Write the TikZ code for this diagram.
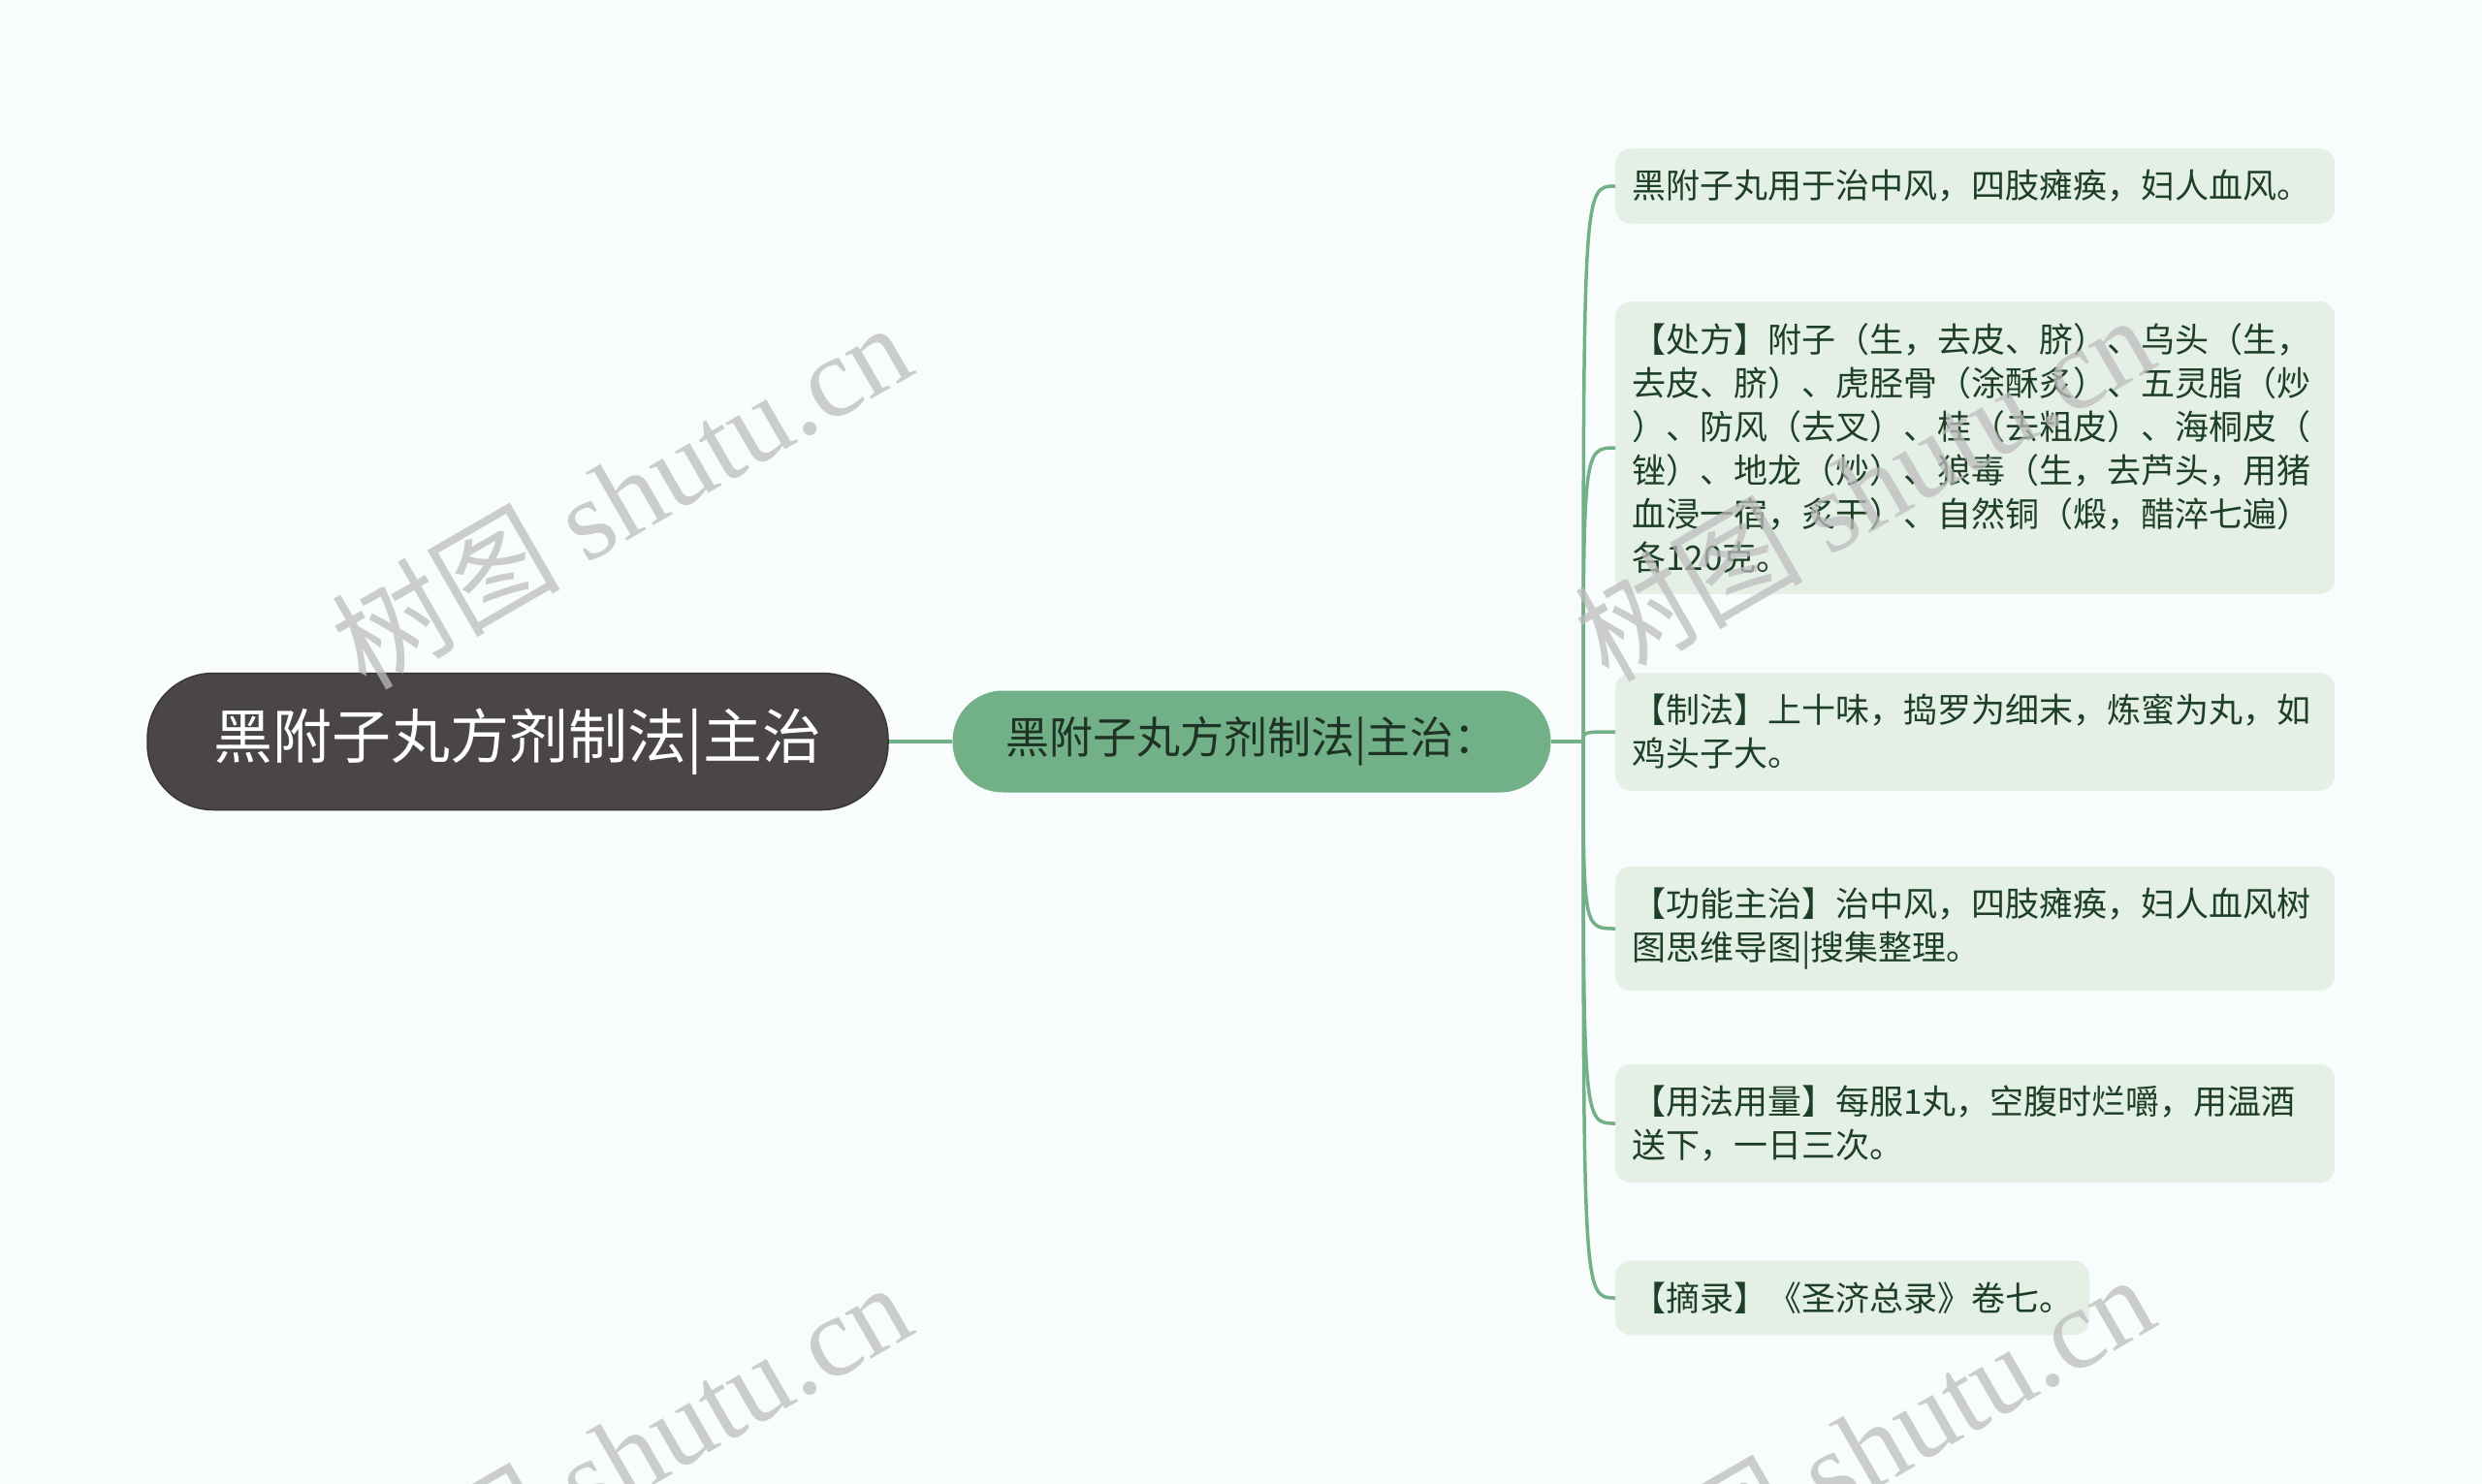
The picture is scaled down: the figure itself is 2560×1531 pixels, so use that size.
\documentclass[tikz,border=0pt]{standalone}
\usepackage{fontspec}
\setmainfont{Noto Sans CJK SC}
\newfontfamily\wmlatin{Liberation Serif}
\newfontfamily\wmcjk{Noto Sans CJK SC}
\usetikzlibrary{calc}

\definecolor{bgcol}{HTML}{F8FCFC}
\definecolor{rootfill}{HTML}{4B4646}
\definecolor{rootline}{HTML}{3A3636}
\definecolor{subfill}{HTML}{72B087}
\definecolor{subtext}{HTML}{1E3325}
\definecolor{leaffill}{HTML}{E4EFE6}
\definecolor{leaftext}{HTML}{1E3F27}
\definecolor{edgecol}{HTML}{72B087}
\definecolor{wmcol}{HTML}{BDBDBD}

\begin{document}
\begin{tikzpicture}[x=1pt, y=-1pt, line join=round]
  \tikzstyle{rootbox}=[rectangle, rounded corners=68pt, fill=rootfill, draw=rootline, line width=1.5pt, text=white, minimum width=764pt, minimum height=141pt, font=\fontsize{61}{61}\selectfont]
  \tikzstyle{subbox}=[rectangle, rounded corners=52pt, fill=subfill, text=subtext, minimum width=617pt, minimum height=105pt, font=\fontsize{45}{45}\selectfont]
  \tikzstyle{leafbox}=[rectangle, rounded corners=16pt, fill=leaffill, text=leaftext, anchor=west, inner xsep=17pt, inner ysep=22pt, align=left, font=\fontsize{35}{45}\selectfont]
  \tikzstyle{wide}=[text width=708pt]
  \tikzstyle{link}=[draw=edgecol, line width=3.5pt]
  \tikzstyle{branch}=[link, to path={.. controls (\tikztostart |- \tikztotarget) .. (\tikztotarget)}]
  \tikzstyle{wmtext}=[text=wmcol, text opacity=0.75, rotate=30, font=\fontsize{118}{118}\selectfont]

  % page
  \fill[bgcol] (0,0) rectangle (2560,1531);
  \useasboundingbox (0,0) rectangle (2560,1531);

  \node[rootbox] (root) at (534,765) {黑附子丸方剂制法|主治};
  \node[subbox] (sub) at (1291,765) {黑附子丸方剂制法|主治：};
  \coordinate (hub) at (1633,765);

  \node[leafbox, wide] (1) at (1666,192) {黑附子丸用于治中风，四肢瘫痪，妇人血风。};
  \node[leafbox, wide] (2) at (1666,462) {【处方】附子（生，去皮、脐）、乌头（生，\\去皮、脐）、虎胫骨（涂酥炙）、五灵脂（炒\\）、防风（去叉）、桂（去粗皮）、海桐皮（\\锉）、地龙（炒）、狼毒（生，去芦头，用猪\\血浸一宿，炙干）、自然铜（煅，醋淬七遍）\\各120克。};
  \node[leafbox, wide] (3) at (1666,755) {【制法】上十味，捣罗为细末，炼蜜为丸，如\\鸡头子大。};
  \node[leafbox, wide] (4) at (1666,958) {【功能主治】治中风，四肢瘫痪，妇人血风树\\图思维导图|搜集整理。};
  \node[leafbox, wide] (5) at (1666,1159) {【用法用量】每服1丸，空腹时烂嚼，用温酒\\送下，一日三次。};
  \node[leafbox] (6) at (1666,1339) {【摘录】《圣济总录》卷七。};

  \path (root.east) edge[link] (sub.west)
        (sub.east) edge[link] (hub);
  \path (hub) edge[branch] (1.west)
        (hub) edge[branch] (2.west)
        (hub) edge[branch] (3.west)
        (hub) edge[branch] (4.west)
        (hub) edge[branch] (5.west)
        (hub) edge[branch] (6.west);

  % watermarks
  \node[wmtext] (wm1) at (640,510) {{\wmcjk 树图} {\wmlatin shutu.cn}};
  \node[wmtext] (wm2) at (1922,502) {{\wmcjk 树图} {\wmlatin shutu.cn}};
  \node[wmtext] (wm3) at (640,1500) {{\wmcjk 树图} {\wmlatin shutu.cn}};
  \node[wmtext] (wm4) at (1922,1492) {{\wmcjk 树图} {\wmlatin shutu.cn}};
\end{tikzpicture}
\end{document}
